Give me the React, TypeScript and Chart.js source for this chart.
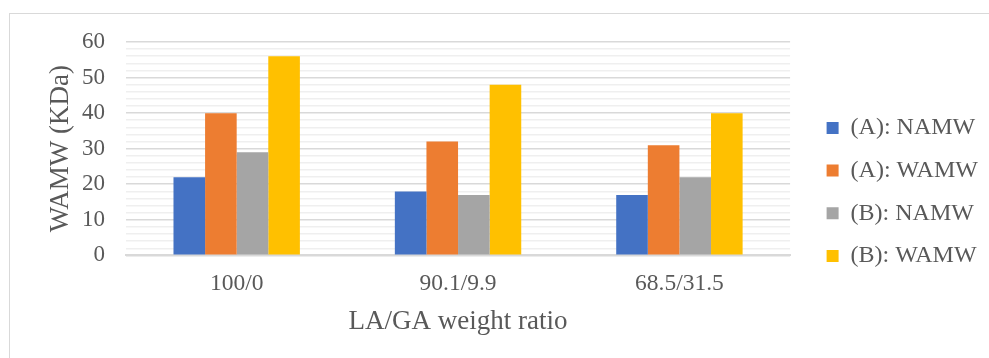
import React, { useEffect, useRef } from "react";
import { Chart, registerables } from "chart.js";

Chart.register(...registerables);

const categories = ["100/0", "90.1/9.9", "68.5/31.5"];
const seriesNames = ["(A): NAMW", "(A): WAMW", "(B): NAMW", "(B): WAMW"];
const aNamw = [22, 18, 17];
const aWamw = [40, 32, 31];
const bNamw = [29, 17, 22];
const bWamw = [56, 48, 40];
const seriesColors = ["#4472C4", "#ED7D31", "#A5A5A5", "#FFC000"];
const yTitle = "WAMW (KDa)";
const xTitle = "LA/GA weight ratio";

const FONT = "'Liberation Serif', 'Times New Roman', serif";
const TEXT = "#595959";

export default function App() {
  const ref = useRef<HTMLCanvasElement | null>(null);
  useEffect(() => {
    if (!ref.current) return;
    const values = [aNamw, aWamw, bNamw, bWamw];
    const chart = new Chart(ref.current, {
      type: "bar",
      data: {
        labels: categories,
        datasets: seriesNames.map((n, i) => ({
          label: n,
          data: values[i],
          backgroundColor: seriesColors[i],
          borderWidth: 0,
          categoryPercentage: 0.571,
          barPercentage: 1,
          yAxisID: "y",
        })),
      },
      options: {
        animation: false,
        responsive: false,
        maintainAspectRatio: false,
        layout: { padding: { top: 42, left: 44.4, right: 1.1, bottom: 20.3 } },
        plugins: {
          tooltip: { enabled: false },
          legend: {
            position: "right",
            align: "center",
            title: {
              display: true,
              text: "",
              font: { size: 2 },
              padding: { top: 0, bottom: 1.8 },
            },
            labels: {
              boxWidth: 12,
              boxHeight: 12,
              padding: 18.7,
              color: TEXT,
              font: { family: FONT, size: 24 },
            },
          },
        },
        scales: {
          x: {
            grid: { display: false, drawTicks: false },
            border: { display: true, color: "#d9d9d9", width: 2 },
            ticks: { color: TEXT, font: { family: FONT, size: 23.5 }, padding: 14 },
            title: {
              display: true,
              text: xTitle,
              color: TEXT,
              font: { family: FONT, size: 27 },
              padding: { top: -6.3, bottom: 0 },
            },
          },
          y: {
            min: 0,
            max: 60,
            grid: {
              drawTicks: false,
              color: (c: any) => (c.tick && c.tick.value % 10 === 0 ? "#d9d9d9" : "#efefef"),
              lineWidth: (c: any) => (c.tick && c.tick.value % 10 === 0 ? 1.6 : 1.5),
            },
            border: { display: false },
            ticks: {
              stepSize: 2,
              autoSkip: false,
              color: TEXT,
              font: { family: FONT, size: 23 },
              padding: 21,
              callback: (v: any) => (Number(v) % 10 === 0 ? String(v) : ""),
            },
            title: {
              display: true,
              text: yTitle,
              color: TEXT,
              font: { family: FONT, size: 27 },
              padding: { top: 0, bottom: -15.8 },
            },
          },
          yR: {
            type: "linear",
            position: "right",
            display: false,
            afterFit: (s: any) => {
              s.width = 17.8;
            },
          },
        },
      } as any,
    });
    return () => chart.destroy();
  }, []);

  return (
    <div
      style={{
        position: "fixed",
        left: 0,
        top: 0,
        width: 989,
        height: 358,
        overflow: "hidden",
        background: "#fff",
      }}
    >
      <div
        style={{
          position: "absolute",
          left: 9,
          top: 12.5,
          width: 2000,
          height: 2000,
          borderLeft: "1.5px solid #d9d9d9",
          borderTop: "1.5px solid #d9d9d9",
        }}
      />
      <canvas
        ref={ref}
        width={989}
        height={358}
        style={{ position: "absolute", left: 0, top: 0, width: 989, height: 358 }}
      />
    </div>
  );
}
